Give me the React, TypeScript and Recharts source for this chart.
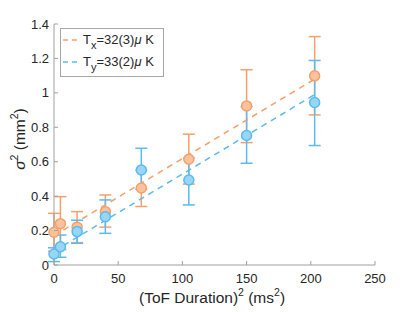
import {
  ComposedChart,
  ErrorBar,
  Line,
  Scatter,
  XAxis,
  YAxis,
} from "recharts";

const ORANGE = "#f5a06b";
const ORANGE_FILL = "#f9c29c";
const BLUE = "#5bbaef";
const BLUE_FILL = "#97d6f6";

// (ToF duration)^2 in ms^2
const tofSq = [0, 5, 18, 40, 68, 105, 150, 203];

// sigma^2 in mm^2 with lower / upper error bar ends
const sigmaX = [0.19, 0.24, 0.22, 0.31, 0.447, 0.614, 0.924, 1.099];
const sigmaXLow = [0.08, 0.09, 0.13, 0.22, 0.34, 0.47, 0.711, 0.872];
const sigmaXHigh = [0.3, 0.397, 0.31, 0.407, 0.55, 0.76, 1.134, 1.327];

const sigmaY = [0.064, 0.106, 0.194, 0.28, 0.552, 0.494, 0.752, 0.944];
const sigmaYLow = [0.02, 0.045, 0.126, 0.184, 0.44, 0.349, 0.591, 0.694];
const sigmaYHigh = [0.1, 0.174, 0.26, 0.378, 0.678, 0.62, 0.92, 1.188];

// linear fits
const fitX = [0, 203];
const fitSigmaX = [0.17, 1.08];
const fitSigmaY = [0.08, 0.99];

const xTicks = [0, 50, 100, 150, 200, 250];
const yTicks = [0, 0.2, 0.4, 0.6, 0.8, 1, 1.2, 1.4];

const orangeData = tofSq.map((x, i) => ({
  x,
  y: sigmaX[i],
  err: [sigmaX[i] - sigmaXLow[i], sigmaXHigh[i] - sigmaX[i]],
}));
const blueData = tofSq.map((x, i) => ({
  x,
  y: sigmaY[i],
  err: [sigmaY[i] - sigmaYLow[i], sigmaYHigh[i] - sigmaY[i]],
}));
const fitData = fitX.map((x, i) => ({ x, fx: fitSigmaX[i], fy: fitSigmaY[i] }));

const FONT = "'Liberation Sans', Arial, sans-serif";
const AXIS = "#262626";
const AXIS_LINE = "#a0a0a0";

function BottomTick(props: any) {
  const { x, y, payload } = props;
  return (
    <g>
      <line x1={x} x2={x} y1={y} y2={y - 4} stroke={AXIS_LINE} />
      <text x={x} y={y + 18} textAnchor="middle" fontSize={13} fill={AXIS} fontFamily={FONT}>
        {payload.value}
      </text>
    </g>
  );
}

function TopTick(props: any) {
  const { x, y } = props;
  return <line x1={x} x2={x} y1={y} y2={y + 4} stroke={AXIS_LINE} />;
}

function LeftTick(props: any) {
  const { x, y, payload } = props;
  return (
    <g>
      <line x1={x} x2={x + 4} y1={y} y2={y} stroke={AXIS_LINE} />
      <text x={x - 5} y={y + 4.5} textAnchor="end" fontSize={13} fill={AXIS} fontFamily={FONT}>
        {payload.value}
      </text>
    </g>
  );
}

function RightTick(props: any) {
  const { x, y } = props;
  return <line x1={x} x2={x - 4} y1={y} y2={y} stroke={AXIS_LINE} />;
}

function Dot(fill: string, stroke: string) {
  return (props: any) => (
    <circle cx={props.cx} cy={props.cy} r={5} fill={fill} stroke={stroke} strokeWidth={1.5} />
  );
}

export default function App() {
  return (
    <div style={{ position: "relative", width: 415, height: 312, background: "#fff", fontFamily: FONT }}>
      <style>{"body{margin:0}"}</style>
      <ComposedChart
        width={415}
        height={312}
        margin={{ top: 24, right: 40, bottom: 0, left: 0 }}
      >
        <XAxis
          xAxisId="b"
          type="number"
          dataKey="x"
          domain={[0, 250]}
          ticks={xTicks}
          height={47}
          tickSize={0}
          tickMargin={0}
          tickLine={false}
          axisLine={{ stroke: AXIS_LINE }}
          tick={<BottomTick />}
          interval={0}
        />
        <XAxis
          xAxisId="t"
          orientation="top"
          type="number"
          dataKey="x"
          domain={[0, 250]}
          ticks={xTicks}
          height={0}
          tickSize={0}
          tickMargin={0}
          tickLine={false}
          axisLine={{ stroke: AXIS_LINE }}
          tick={<TopTick />}
          interval={0}
        />
        <YAxis
          yAxisId="l"
          type="number"
          domain={[0, 1.4]}
          ticks={yTicks}
          width={54}
          tickSize={0}
          tickMargin={0}
          tickLine={false}
          axisLine={{ stroke: AXIS_LINE }}
          tick={<LeftTick />}
          interval={0}
        />
        <YAxis
          yAxisId="r"
          orientation="right"
          type="number"
          domain={[0, 1.4]}
          ticks={yTicks}
          width={0}
          tickSize={0}
          tickMargin={0}
          tickLine={false}
          axisLine={{ stroke: AXIS_LINE }}
          tick={<RightTick />}
          interval={0}
        />
        <Scatter
          xAxisId="b"
          yAxisId="l"
          data={orangeData}
          dataKey="y"
          shape={Dot(ORANGE_FILL, ORANGE)}
          isAnimationActive={false}
        >
          <ErrorBar dataKey="err" direction="y" width={6} stroke={ORANGE} strokeWidth={1.5} />
        </Scatter>
        <Scatter
          xAxisId="b"
          yAxisId="l"
          data={blueData}
          dataKey="y"
          shape={Dot(BLUE_FILL, BLUE)}
          isAnimationActive={false}
        >
          <ErrorBar dataKey="err" direction="y" width={6} stroke={BLUE} strokeWidth={1.5} />
        </Scatter>
        <Line
          xAxisId="b"
          yAxisId="l"
          data={fitData}
          dataKey="fx"
          type="linear"
          stroke={ORANGE}
          strokeWidth={1.5}
          strokeDasharray="6 5"
          dot={false}
          activeDot={false}
          isAnimationActive={false}
        />
        <Line
          xAxisId="b"
          yAxisId="l"
          data={fitData}
          dataKey="fy"
          type="linear"
          stroke={BLUE}
          strokeWidth={1.5}
          strokeDasharray="6 5"
          dot={false}
          activeDot={false}
          isAnimationActive={false}
        />
        <text fontSize={15.5} fill={AXIS} fontFamily={FONT}>
          <tspan x={139} y={303}>(ToF Duration)</tspan>
          <tspan dy={-7} fontSize={10.5}>2</tspan>
          <tspan dy={7}> (ms</tspan>
          <tspan dy={-7} fontSize={10.5}>2</tspan>
          <tspan dy={7}>)</tspan>
        </text>
        <text
          transform="translate(25,139) rotate(-90)"
          textAnchor="middle"
          fontSize={15.5}
          fill={AXIS}
          fontFamily={FONT}
        >
          <tspan fontStyle="italic">σ</tspan>
          <tspan dy={-7} fontSize={10.5}>2</tspan>
          <tspan dy={7}> (mm</tspan>
          <tspan dy={-7} fontSize={10.5}>2</tspan>
          <tspan dy={7}>)</tspan>
        </text>
      </ComposedChart>
      <div
        style={{
          position: "absolute",
          left: 60,
          top: 28,
          width: 104,
          height: 49,
          border: "1px solid #a8a8a8",
          background: "#fff",
          boxSizing: "border-box",
          fontSize: 13,
          color: AXIS,
        }}
      >
        {[
          { color: ORANGE, sub: "x", val: "=32(3)" },
          { color: BLUE, sub: "y", val: "=33(2)" },
        ].map((e, i) => (
          <div
            key={e.sub}
            style={{ position: "absolute", left: 1, top: 4 + i * 22, display: "flex", alignItems: "center", whiteSpace: "nowrap" }}
          >
            <svg width={18} height={14}>
              <line x1={1} x2={17} y1={7} y2={7} stroke={e.color} strokeWidth={1.5} strokeDasharray="5 4" />
            </svg>
            <span style={{ marginLeft: 3, lineHeight: "14px" }}>
              T<sub style={{ fontSize: 11, verticalAlign: "-5px", lineHeight: 0 }}>{e.sub}</sub>
              {e.val}
              <i>μ</i> K
            </span>
          </div>
        ))}
      </div>
    </div>
  );
}
